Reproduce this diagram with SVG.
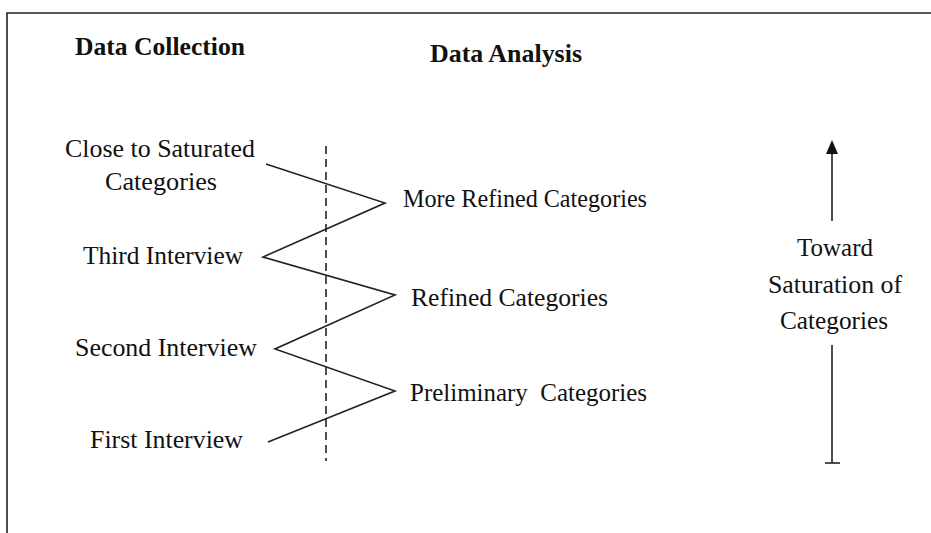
<svg xmlns="http://www.w3.org/2000/svg" width="931" height="533" viewBox="0 0 931 533">
  <style>
    .t { font-family: "Liberation Serif", Tinos, "Times New Roman", "DejaVu Serif", serif; font-size: 25px; fill: #111; }
    .h { font-family: "Liberation Serif", Tinos, "Times New Roman", "DejaVu Serif", serif; font-size: 25px; font-weight: bold; fill: #111; }
    .ln { stroke: #222; stroke-width: 1.6; fill: none; }
  </style>
  <rect width="931" height="533" fill="#fff"/>
  <!-- frame: top and left edges -->
  <path class="ln" d="M7,533 L7,13 L931,13" stroke-width="2"/>

  <g id="heading-collection"><text class="h" x="75" y="55" textLength="170" lengthAdjust="spacingAndGlyphs">Data Collection</text></g>
  <g id="heading-analysis"><text class="h" x="430" y="62" textLength="152" lengthAdjust="spacingAndGlyphs">Data Analysis</text></g>

  <g id="close-to-saturated">
    <text class="t" x="65" y="157" textLength="190" lengthAdjust="spacingAndGlyphs">Close to Saturated</text>
    <text class="t" x="105" y="190" textLength="112" lengthAdjust="spacingAndGlyphs">Categories</text>
  </g>
  <g id="third-interview"><text class="t" x="83" y="264" textLength="160" lengthAdjust="spacingAndGlyphs">Third Interview</text></g>
  <g id="second-interview"><text class="t" x="75" y="356" textLength="182" lengthAdjust="spacingAndGlyphs">Second Interview</text></g>
  <g id="first-interview"><text class="t" x="90" y="448" textLength="153" lengthAdjust="spacingAndGlyphs">First Interview</text></g>

  <g id="more-refined"><text class="t" x="403" y="207" textLength="244" lengthAdjust="spacingAndGlyphs">More Refined Categories</text></g>
  <g id="refined"><text class="t" x="411" y="306" textLength="197" lengthAdjust="spacingAndGlyphs">Refined Categories</text></g>
  <g id="preliminary"><text class="t" x="410" y="401" textLength="237" lengthAdjust="spacingAndGlyphs" xml:space="preserve">Preliminary  Categories</text></g>

  <g id="saturation-label">
    <text class="t" x="797" y="256" textLength="76" lengthAdjust="spacingAndGlyphs">Toward</text>
    <text class="t" x="768" y="293" textLength="134" lengthAdjust="spacingAndGlyphs">Saturation of</text>
    <text class="t" x="780" y="329" textLength="108" lengthAdjust="spacingAndGlyphs">Categories</text>
  </g>

  <g id="connectors">
    <!-- divider between collection and analysis -->
    <line class="ln" x1="326" y1="146" x2="326" y2="461" stroke-dasharray="8,5"/>
    <!-- zigzag between interviews and categories -->
    <polyline class="ln" points="268,442 395,391 275,349 395,295 263,257 385,203 266,164"/>
    <!-- saturation axis with arrowhead -->
    <line class="ln" x1="832" y1="221" x2="832" y2="150"/>
    <polygon points="832,140 838,154 826,154" fill="#111"/>
    <line class="ln" x1="832" y1="345" x2="832" y2="463"/>
    <line class="ln" x1="825" y1="463" x2="840" y2="463"/>
  </g>
</svg>
